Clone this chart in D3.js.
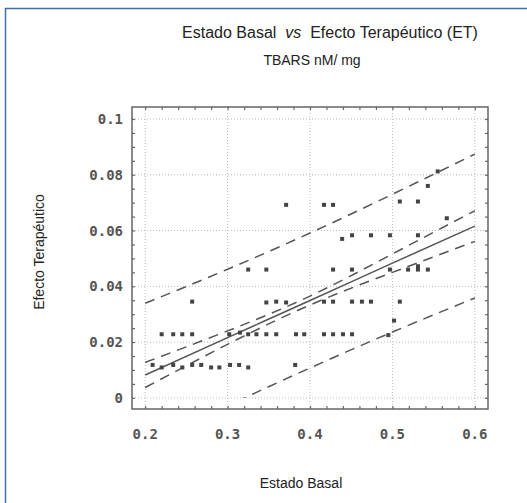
<!DOCTYPE html>
<html>
<head>
<meta charset="utf-8">
<script src="https://cdn.jsdelivr.net/npm/d3@7/dist/d3.min.js"></script>
<style>
  body { margin: 0; background: #fff; }
  svg { display: block; }
</style>
</head>
<body>
<div id="chart"></div>
<script>
// scatter: basal value (x) vs therapeutic effect (y)
const basalX = [
  0.209, 0.220, 0.234, 0.245, 0.257, 0.268, 0.280, 0.290, 0.303, 0.314, 0.325, 0.382,
  0.220, 0.234, 0.245, 0.257, 0.302, 0.315, 0.325, 0.335, 0.347, 0.359, 0.383, 0.393, 0.417, 0.428, 0.440, 0.451, 0.495,
  0.502,
  0.257, 0.347, 0.359, 0.371, 0.417, 0.428, 0.451, 0.463, 0.474, 0.509,
  0.325, 0.347, 0.428, 0.451, 0.497, 0.519, 0.531, 0.531, 0.543,
  0.439, 0.451, 0.474, 0.497, 0.531,
  0.566,
  0.371, 0.417, 0.428, 0.509, 0.531,
  0.543, 0.555
];
const efectoY = [
  0.0118, 0.0109, 0.0118, 0.0109, 0.0118, 0.0118, 0.0109, 0.0109, 0.0118, 0.0118, 0.0109, 0.0118,
  0.0228, 0.0228, 0.0228, 0.0228, 0.0228, 0.0234, 0.0228, 0.0228, 0.0228, 0.0228, 0.0228, 0.0228, 0.0228, 0.0228, 0.0228, 0.0228, 0.0225,
  0.0277,
  0.0345, 0.0342, 0.0345, 0.0342, 0.0345, 0.0345, 0.0345, 0.0345, 0.0345, 0.0345,
  0.0460, 0.0460, 0.0460, 0.0460, 0.0460, 0.0460, 0.0460, 0.0472, 0.0460,
  0.0570, 0.0583, 0.0583, 0.0583, 0.0583,
  0.0644,
  0.0692, 0.0692, 0.0692, 0.0704, 0.0704,
  0.0760, 0.0812
];

// fitted line and bands, read at a few x positions
const fitX    = [0.2, 0.3, 0.4, 0.5, 0.6];
const fitY    = [0.0082, 0.0216, 0.0349, 0.0483, 0.0616];
const ciUpper = [0.0127, 0.0240, 0.0365, 0.0516, 0.0671];
const ciLower = [0.0037, 0.0192, 0.0333, 0.0450, 0.0561];
const piUpper = [0.0339, 0.0461, 0.0591, 0.0730, 0.0874];
const piLower = [-0.0175, -0.0029, 0.0107, 0.0236, 0.0358];

const xTicks = [0.2, 0.3, 0.4, 0.5, 0.6];
const yTicks = [0, 0.02, 0.04, 0.06, 0.08, 0.1];
const xMinor = d3.range(0.18, 0.621, 0.02);
const yMinor = d3.range(0, 0.1041, 0.005);

const width = 527, height = 503;
const pLeft = 132, pRight = 488, pTop = 107, pBottom = 409;

const svg = d3.select('#chart').append('svg')
  .attr('xmlns', 'http://www.w3.org/2000/svg')
  .attr('width', width)
  .attr('height', height);

// blue page frame (only top and left visible)
svg.append('path')
  .attr('d', 'M5.5,' + height + ' V8.5 H' + width)
  .attr('fill', 'none')
  .attr('stroke', '#3f70a8')
  .attr('stroke-width', 1.5);

const x = d3.scaleLinear().domain([0.184, 0.616]).range([pLeft, pRight]);
const y = d3.scaleLinear().domain([-0.004, 0.1043]).range([pBottom, pTop]);

// dotted grid
svg.append('g').selectAll('line')
  .data(xTicks).enter().append('line')
  .attr('x1', d => x(d)).attr('x2', d => x(d))
  .attr('y1', pTop).attr('y2', pBottom)
  .attr('stroke', '#bbb').attr('stroke-dasharray', '1,2');
svg.append('g').selectAll('line')
  .data(yTicks).enter().append('line')
  .attr('x1', pLeft).attr('x2', pRight)
  .attr('y1', d => y(d)).attr('y2', d => y(d))
  .attr('stroke', '#bbb').attr('stroke-dasharray', '1,2');

// inward ticks on all four sides
function ticks(axis, vals, tr) {
  const g = svg.append('g').attr('transform', tr)
    .call(axis.tickValues(vals).tickSize(-3).tickFormat(''));
  g.select('.domain').remove();
  g.selectAll('line').attr('stroke', '#666').attr('stroke-width', 1.2);
}
const xMinorIn = xMinor.filter(d => x(d) > pLeft && x(d) < pRight);
ticks(d3.axisBottom(x), xMinorIn, 'translate(0,' + pBottom + ')');
ticks(d3.axisTop(x), xMinorIn, 'translate(0,' + pTop + ')');
ticks(d3.axisLeft(y), yMinor, 'translate(' + pLeft + ',0)');
ticks(d3.axisRight(y), yMinor, 'translate(' + pRight + ',0)');

// tick labels
const tickFont = '"DejaVu Sans Mono", monospace';
svg.append('g').selectAll('text')
  .data(xTicks).enter().append('text')
  .attr('x', d => x(d)).attr('y', 439)
  .attr('text-anchor', 'middle')
  .attr('font-family', tickFont).attr('font-size', 14).attr('font-weight', 'bold')
  .attr('fill', '#555')
  .text(d => d3.format('.1f')(d));
svg.append('g').selectAll('text')
  .data(yTicks).enter().append('text')
  .attr('x', 123).attr('y', d => y(d) + 5)
  .attr('text-anchor', 'end')
  .attr('font-family', tickFont).attr('font-size', 14).attr('font-weight', 'bold')
  .attr('fill', '#555')
  .text(d => d === 0 ? '0' : d3.format('.2~f')(d));

// clip to the plot above y = 0
svg.append('clipPath').attr('id', 'clip')
  .append('rect')
  .attr('x', pLeft).attr('y', pTop)
  .attr('width', pRight - pLeft).attr('height', y(0) - pTop);

const plot = svg.append('g').attr('clip-path', 'url(#clip)');

const band = arr => d3.line()
  .x((d, i) => x(fitX[i]))
  .y((d, i) => y(arr[i]))
  .curve(d3.curveNatural)(fitX);

[piUpper, piLower, ciUpper, ciLower].forEach(arr => {
  plot.append('path')
    .attr('d', band(arr))
    .attr('fill', 'none')
    .attr('stroke', '#555')
    .attr('stroke-width', 1.5)
    .attr('stroke-dasharray', '10,7');
});

plot.append('path')
  .attr('d', band(fitY))
  .attr('fill', 'none')
  .attr('stroke', '#555')
  .attr('stroke-width', 1.5);

// points
svg.append('g').selectAll('rect')
  .data(basalX).enter().append('rect')
  .attr('x', d => x(d) - 2)
  .attr('y', (d, i) => y(efectoY[i]) - 2)
  .attr('width', 4).attr('height', 4)
  .attr('fill', '#444');

// frame
svg.append('rect')
  .attr('x', pLeft).attr('y', pTop)
  .attr('width', pRight - pLeft).attr('height', pBottom - pTop)
  .attr('fill', 'none')
  .attr('stroke', '#666')
  .attr('stroke-width', 1.5);

// titles
const sans = '"Liberation Sans", Arial, sans-serif';
const title = svg.append('text')
  .attr('x', 330).attr('y', 38)
  .attr('text-anchor', 'middle')
  .attr('font-family', sans)
  .attr('font-size', 16)
  .attr('fill', '#222')
  .style('white-space', 'pre');
title.append('tspan').text('Estado Basal  ');
title.append('tspan').attr('font-style', 'italic').text('vs');
title.append('tspan').text('  Efecto Terapéutico (ET)');

svg.append('text')
  .attr('x', 312).attr('y', 65)
  .attr('text-anchor', 'middle')
  .attr('font-family', sans)
  .attr('font-size', 14)
  .attr('fill', '#222')
  .text('TBARS nM/ mg');

svg.append('text')
  .attr('transform', 'translate(44,252) rotate(-90)')
  .attr('text-anchor', 'middle')
  .attr('font-family', sans)
  .attr('font-size', 14)
  .attr('fill', '#222')
  .text('Efecto Terapéutico');

svg.append('text')
  .attr('x', 301).attr('y', 488)
  .attr('text-anchor', 'middle')
  .attr('font-family', sans)
  .attr('font-size', 14)
  .attr('fill', '#222')
  .text('Estado Basal');
</script>
</body>
</html>
